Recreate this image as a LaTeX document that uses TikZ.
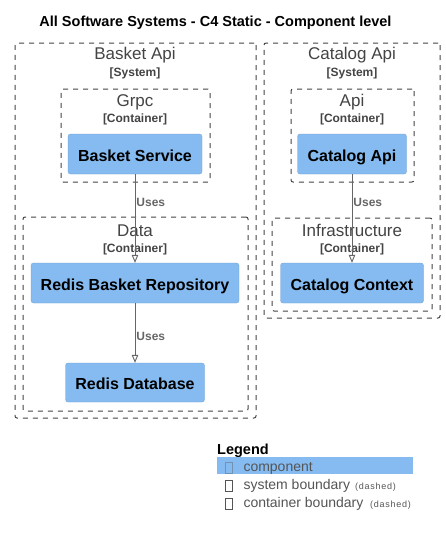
\documentclass[tikz,border=0pt]{standalone}
\usepackage{fontspec}
\setmainfont{Liberation Sans}
\usetikzlibrary{arrows.meta}
\definecolor{compblue}{HTML}{85BBF0}
\definecolor{bndgrey}{HTML}{444444}
\definecolor{relgrey}{HTML}{666666}
\definecolor{leggrey}{HTML}{555555}
\tikzset{
  comp/.style={rectangle, rounded corners=2.5pt, fill=compblue, draw=compblue!85!black, line width=0.3pt,
    text=black, font=\fontsize{16}{19}\selectfont\bfseries, text height=14pt, text depth=0pt, inner sep=0pt},
  bnd/.style={rectangle, rounded corners=2pt, draw=bndgrey, line width=1pt, dash pattern=on 5pt off 5pt, inner sep=0pt},
  bname/.style={anchor=base, text=bndgrey, font=\fontsize{17}{20}\selectfont, inner sep=0pt},
  btype/.style={anchor=base, text=bndgrey, font=\fontsize{12}{14}\selectfont\bfseries, inner sep=0pt},
  rel/.style={draw=relgrey, line width=0.9pt, -{Triangle[open, length=8pt, width=6.5pt]}},
  rlabel/.style={anchor=base west, text=relgrey, font=\fontsize{12}{14}\selectfont\bfseries, inner sep=0pt, xshift=1pt},
  legtext/.style={anchor=base west, text=leggrey, font=\fontsize{14}{16}\selectfont, inner sep=0pt},
  legsmall/.style={anchor=base west, text=leggrey, font=\fontsize{9}{11}\selectfont\addfontfeature{LetterSpace=8}, inner sep=0pt},
  tofu/.style={rectangle, draw=leggrey, line width=0.6pt, minimum width=7pt, minimum height=11pt, inner sep=0pt},
}
\begin{document}
\begin{tikzpicture}[x=1pt, y=-1pt]
\useasboundingbox (0,0) rectangle (445,536);
\fill[white] (0,0) rectangle (445,536);

% title
\node[anchor=base, inner sep=0pt, font=\fontsize{14.5}{17}\selectfont\bfseries] (title) at (215.5,26) {All Software Systems - C4 Static - Component level};

% Basket Api system
\node[bnd, minimum width=241pt, minimum height=375pt] (basketsys) at (135.5,230.5) {};
\node[bname] (basketname) at (135,59) {Basket Api};
\node[btype] (baskettype) at (135,76.5) {[System]};

% Grpc container
\node[bnd, minimum width=149pt, minimum height=93pt] (grpc) at (135.5,135.5) {};
\node[bname] (grpcname) at (135,106.7) {Grpc};
\node[btype] (grpctype) at (135,122.5) {[Container]};
\node[comp, minimum width=134pt, minimum height=40pt] (bsvc) at (135,154) {Basket Service};

% Data container
\node[bnd, minimum width=225pt, minimum height=194pt] (data) at (135.5,314) {};
\node[bname] (dataname) at (135,236.5) {Data};
\node[btype] (datatype) at (135,252) {[Container]};
\node[comp, minimum width=208pt, minimum height=40pt] (rbr) at (135,283) {Redis Basket Repository};
\node[comp, minimum width=139pt, minimum height=39pt] (rdb) at (135,382.5) {Redis Database};

% Catalog Api system
\node[bnd, minimum width=176pt, minimum height=275pt] (catsys) at (352,180.5) {};
\node[bname] (catname) at (352,59) {Catalog Api};
\node[btype] (cattype) at (352,76.5) {[System]};

% Api container
\node[bnd, minimum width=123pt, minimum height=93pt] (api) at (352.5,135.5) {};
\node[bname] (apiname) at (352,106.7) {Api};
\node[btype] (apitype) at (352,122.5) {[Container]};
\node[comp, minimum width=109pt, minimum height=40pt] (capi) at (352,154) {Catalog Api};

% Infrastructure container
\node[bnd, minimum width=160pt, minimum height=93pt] (infra) at (352,264.5) {};
\node[bname] (infraname) at (352,236.5) {Infrastructure};
\node[btype] (infratype) at (352,252) {[Container]};
\node[comp, minimum width=143pt, minimum height=40pt] (cctx) at (352,283) {Catalog Context};

% relations
\draw[rel] (bsvc.south) -- (rbr.north) node[rlabel, pos=0.36] (u1) {Uses};
\draw[rel] (rbr.south) -- (rdb.north) node[rlabel, pos=0.633] (u2) {Uses};
\draw[rel] (capi.south) -- (cctx.north) node[rlabel, pos=0.36] (u3) {Uses};

% legend
\node[anchor=base west, inner sep=0pt, font=\fontsize{14.5}{17}\selectfont\bfseries] (legend) at (217,454) {Legend};
\node[rectangle, fill=compblue, minimum width=196pt, minimum height=17pt, inner sep=0pt] (legbar) at (315,465.5) {};
\node[tofu, draw=leggrey!40!compblue] (t1) at (228.5,467.5) {};
\node[legtext] (l1) at (243.3,471.5) {component};
\node[tofu] (t2) at (228.5,485.5) {};
\node[legtext] (l2) at (243.3,489.3) {system boundary};
\node[legsmall] (l2s) at (355,489.3) {(dashed)};
\node[tofu] (t3) at (228.5,503.5) {};
\node[legtext] (l3) at (243.3,507.2) {container boundary};
\node[legsmall] (l3s) at (370,507.2) {(dashed)};
\end{tikzpicture}
\end{document}
